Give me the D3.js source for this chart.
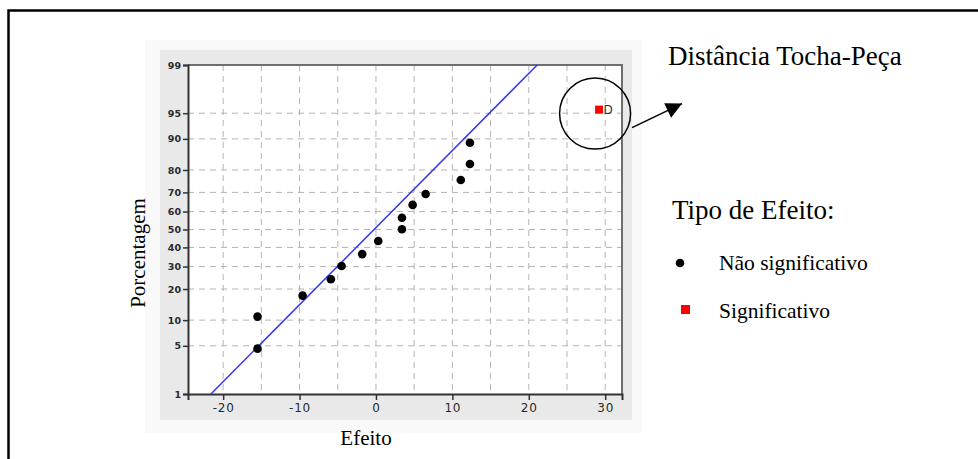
<!DOCTYPE html>
<html>
<head>
<meta charset="utf-8">
<script src="https://cdn.jsdelivr.net/npm/d3@7"></script>
<style>
    body { margin: 0; background: #fff; }
    svg { display: block; }
    .serif { font-family: "Liberation Serif", "Times New Roman", serif; fill: #000; }
</style>
</head>
<body>
<div id="graph"></div>
<script>
// Effects (x) and normal-probability percentages (y)
let effect_values = [-15.5, -15.5, -9.6, -5.9, -4.5, -1.8, 0.3, 3.4, 3.4, 4.8, 6.5, 11.1, 12.3, 12.3];
let effect_pcnt = [4.6, 10.9, 17.5, 24.1, 30.3, 36.4, 43.5, 50.1, 56.6, 63.6, 69.2, 75.8, 82.3, 89.0];
let signif_values = [29.2];
let signif_pcnt = [95.5];
let signif_names = ['D'];
// fitted reference line (two ends)
let line_x = [-21.6, 21.1];
let line_pcnt = [1, 99];
let x_ticks = [-20, -10, 0, 10, 20, 30];
let x_grid = [-20, -15, -10, -5, 0, 5, 10, 15, 20, 25, 30];
let y_ticks = [1, 5, 10, 20, 30, 40, 50, 60, 70, 80, 90, 95, 99];

function probit(p) {
    /**
     * Inverse of the normal CDF (Acklam approximation), used for the
     * probability axis.
     */
    const a = [-3.969683028665376e+01, 2.209460984245205e+02, -2.759285104469687e+02, 1.383577518672690e+02, -3.066479806614716e+01, 2.506628277459239e+00];
    const b = [-5.447609879822406e+01, 1.615858368580409e+02, -1.556989798598866e+02, 6.680131188771972e+01, -1.328068155288572e+01];
    const c = [-7.784894002430293e-03, -3.223964580411365e-01, -2.400758277161838e+00, -2.549732539343734e+00, 4.374664141464968e+00, 2.938163982698783e+00];
    const d = [7.784695709041462e-03, 3.224671290700398e-01, 2.445134137142996e+00, 3.754408661907416e+00];
    const pl = 0.02425;
    let q, r;
    if (p < pl) {
        q = Math.sqrt(-2 * Math.log(p));
        return (((((c[0]*q+c[1])*q+c[2])*q+c[3])*q+c[4])*q+c[5]) / ((((d[0]*q+d[1])*q+d[2])*q+d[3])*q+1);
    }
    if (p <= 1 - pl) {
        q = p - 0.5; r = q * q;
        return (((((a[0]*r+a[1])*r+a[2])*r+a[3])*r+a[4])*r+a[5])*q / (((((b[0]*r+b[1])*r+b[2])*r+b[3])*r+b[4])*r+1);
    }
    q = Math.sqrt(-2 * Math.log(1 - p));
    return -(((((c[0]*q+c[1])*q+c[2])*q+c[3])*q+c[4])*q+c[5]) / ((((d[0]*q+d[1])*q+d[2])*q+d[3])*q+1);
}

function showGraph() {
    var W = 978, H = 459;
    var plot = {left: 188, right: 622, top: 65, bottom: 394};

    var svg = d3.select("#graph").append("svg")
        .attr("width", W)
        .attr("height", H);

    // outer frame (only top and left visible)
    svg.append("path")
        .attr("d", `M8.5,${H} V10.5 H${W}`)
        .attr("fill", "none")
        .attr("stroke", "#000")
        .attr("stroke-width", 2.5);

    // background panels of the embedded screenshot
    svg.append("rect").attr("x", 145).attr("y", 40).attr("width", 497).attr("height", 393).attr("fill", "#f9f9f9");
    svg.append("rect").attr("x", 160).attr("y", 50).attr("width", 472).attr("height", 370).attr("fill", "#e9e9e9");
    svg.append("rect")
        .attr("x", plot.left).attr("y", plot.top)
        .attr("width", plot.right - plot.left).attr("height", plot.bottom - plot.top)
        .attr("fill", "#fff");

    var x = d3.scaleLinear().domain([-24.6, 32.2]).range([plot.left, plot.right]);
    var y = d3.scaleLinear().domain([probit(0.01), probit(0.99)]).range([plot.bottom, plot.top]);
    var yp = p => y(probit(p / 100));

    var g = svg.append("g");

    // grid
    g.selectAll(".vgrid").data(x_grid).enter().append("line")
        .attr("x1", d => x(d)).attr("x2", d => x(d))
        .attr("y1", plot.top).attr("y2", plot.bottom)
        .attr("stroke", "#b4b4b4").attr("stroke-width", 1)
        .style("stroke-dasharray", "6, 5");
    g.selectAll(".hgrid").data(y_ticks.slice(1, -1)).enter().append("line")
        .attr("x1", plot.left).attr("x2", plot.right)
        .attr("y1", d => yp(d)).attr("y2", d => yp(d))
        .attr("stroke", "#b4b4b4").attr("stroke-width", 1)
        .style("stroke-dasharray", "6, 5");

    // plot frame
    svg.append("path")
        .attr("d", `M${plot.left},${plot.top} H${plot.right} V${plot.bottom}`)
        .attr("fill", "none").attr("stroke", "#6e6e6e").attr("stroke-width", 2);

    // axes
    var xAxis = d3.axisBottom(x).tickValues(x_ticks).tickSize(6).tickPadding(3).tickFormat(d => String(d));
    var yAxis = d3.axisLeft(y).tickValues(y_ticks.map(p => probit(p / 100))).tickSize(5).tickPadding(2)
        .tickFormat((d, i) => y_ticks[i]);

    var gx = svg.append("g")
        .attr("transform", "translate(0," + plot.bottom + ")")
        .call(xAxis);
    var gy = svg.append("g")
        .attr("transform", "translate(" + plot.left + ",0)")
        .call(yAxis);

    [gx, gy].forEach(function(a) {
        a.select(".domain").attr("stroke", "#333").attr("stroke-width", 2);
        a.selectAll(".tick line").attr("stroke", "#333").attr("stroke-width", 1.5);
        a.selectAll(".tick text")
            .style("font-family", '"DejaVu Sans", sans-serif').style("fill", "#2a2a2a");
    });
    gx.selectAll(".tick text").attr("font-size", 12).attr("letter-spacing", 0.8);
    gy.selectAll(".tick text").attr("font-size", 9.5).attr("font-weight", "bold");

    // fitted line
    svg.append("path")
        .datum(d3.zip(line_x, line_pcnt))
        .attr("d", d3.line().x(d => x(d[0])).y(d => yp(d[1])))
        .attr("fill", "none").attr("stroke", "#3535f5").attr("stroke-width", 1.5);

    // non significant effects
    svg.selectAll(".dot").data(d3.zip(effect_values, effect_pcnt)).enter().append("circle")
        .attr("cx", d => x(d[0])).attr("cy", d => yp(d[1]))
        .attr("r", 4.3).attr("fill", "#000");

    // significant effects
    var sig = d3.zip(signif_values, signif_pcnt, signif_names);
    svg.selectAll(".sig").data(sig).enter().append("rect")
        .attr("x", d => x(d[0]) - 4).attr("y", d => yp(d[1]) - 4)
        .attr("width", 8).attr("height", 8).attr("fill", "#f00");
    svg.selectAll(".sigl").data(sig).enter().append("text")
        .attr("x", d => x(d[0]) + 4.5).attr("y", d => yp(d[1]) + 4.5)
        .attr("font-family", '"DejaVu Sans", sans-serif').attr("font-size", 12)
        .attr("fill", "#333").text(d => d[2]);

    // annotation circle + arrow
    var cx = x(signif_values[0]) - 4, cy = yp(signif_pcnt[0]) + 4;
    svg.append("circle").attr("cx", cx).attr("cy", cy).attr("r", 35.5)
        .attr("fill", "none").attr("stroke", "#000").attr("stroke-width", 1.5);
    svg.append("defs").append("marker")
        .attr("id", "arrow").attr("viewBox", "0 0 10 10")
        .attr("refX", 10).attr("refY", 5)
        .attr("markerWidth", 11).attr("markerHeight", 10)
        .attr("markerUnits", "strokeWidth")
        .attr("orient", "auto")
        .append("path").attr("d", "M0,0 L10,5 L0,10 z").attr("fill", "#000");
    svg.append("line")
        .attr("x1", cx + 37).attr("y1", cy + 14)
        .attr("x2", cx + 87).attr("y2", cy - 10)
        .attr("stroke", "#000").attr("stroke-width", 1.6)
        .attr("marker-end", "url(#arrow)");

    // texts
    svg.append("text").attr("class", "serif").attr("x", 668).attr("y", 65)
        .attr("font-size", 27).text("Distância Tocha-Peça");
    svg.append("text").attr("class", "serif").attr("x", 672).attr("y", 219)
        .attr("font-size", 27).text("Tipo de Efeito:");
    svg.append("circle").attr("cx", 680).attr("cy", 263).attr("r", 4.3).attr("fill", "#000");
    svg.append("text").attr("class", "serif").attr("x", 719).attr("y", 270)
        .attr("font-size", 21.5).text("Não significativo");
    svg.append("rect").attr("x", 681).attr("y", 305).attr("width", 9).attr("height", 9).attr("fill", "#f00");
    svg.append("text").attr("class", "serif").attr("x", 719).attr("y", 318)
        .attr("font-size", 21.5).text("Significativo");

    svg.append("text").attr("class", "serif").attr("x", 366).attr("y", 445)
        .attr("text-anchor", "middle").attr("font-size", 21).text("Efeito");
    svg.append("text").attr("class", "serif")
        .attr("transform", "translate(145,253) rotate(-90)")
        .attr("text-anchor", "middle").attr("font-size", 21).text("Porcentagem");
}

document.addEventListener("DOMContentLoaded", function() {
    showGraph();
});
</script>
</body>
</html>
